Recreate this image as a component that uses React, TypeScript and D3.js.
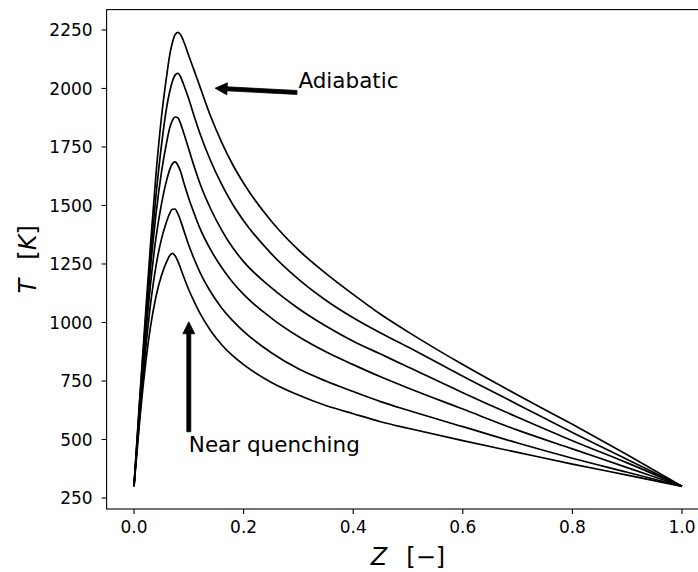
import React from "react";
import * as d3 from "d3";

// Mixture fraction grid
const zGrid = [0, 0.01, 0.02, 0.03, 0.04, 0.05, 0.06, 0.065, 0.07, 0.075, 0.08, 0.085, 0.09, 0.1, 0.11, 0.12, 0.14, 0.16, 0.18, 0.2, 0.25, 0.3, 0.35, 0.4, 0.45, 0.5, 0.6, 0.7, 0.8, 0.9, 1.0];

// Temperature profiles (K), from adiabatic down to near quenching
const tAdiabatic = [300, 660, 1000, 1330, 1630, 1875, 2060, 2140, 2195, 2230, 2240, 2230, 2205, 2140, 2075, 2010, 1880, 1770, 1675, 1595, 1435, 1310, 1210, 1120, 1035, 960, 820, 690, 565, 435, 300];
const tFlamelet2 = [300, 650, 975, 1280, 1540, 1755, 1925, 1985, 2030, 2057, 2065, 2050, 2020, 1955, 1880, 1810, 1690, 1590, 1505, 1435, 1295, 1185, 1095, 1020, 955, 895, 770, 650, 530, 415, 300];
const tFlamelet3 = [300, 630, 945, 1230, 1460, 1640, 1775, 1830, 1863, 1878, 1875, 1850, 1815, 1740, 1665, 1596, 1485, 1395, 1320, 1260, 1150, 1060, 985, 920, 865, 810, 700, 595, 495, 400, 300];
const tFlamelet4 = [300, 610, 905, 1160, 1360, 1505, 1612, 1652, 1678, 1686, 1672, 1645, 1605, 1530, 1465, 1404, 1310, 1235, 1172, 1120, 1020, 940, 875, 820, 768, 720, 630, 540, 460, 380, 300];
const tFlamelet5 = [300, 590, 855, 1075, 1240, 1355, 1435, 1465, 1484, 1485, 1465, 1435, 1400, 1330, 1270, 1216, 1130, 1062, 1008, 962, 872, 802, 750, 705, 662, 625, 555, 485, 420, 360, 300];
const tNearQuench = [300, 570, 800, 980, 1110, 1200, 1262, 1285, 1295, 1285, 1262, 1232, 1200, 1140, 1088, 1041, 965, 905, 858, 820, 745, 690, 645, 610, 576, 548, 495, 445, 395, 348, 300];

const seriesList = [tAdiabatic, tFlamelet2, tFlamelet3, tFlamelet4, tFlamelet5, tNearQuench];

const xTicks = [0, 0.2, 0.4, 0.6, 0.8, 1.0];
const yTicks = [250, 500, 750, 1000, 1250, 1500, 1750, 2000, 2250];

// Annotations: text anchor, arrow tail and arrow tip in data coords
const annLabels = ["Adiabatic", "Near quenching"];
const annText = [[0.3, 2000], [0.1, 448]];
const annTail = [[0.2974, 1983], [0.1, 533]];
const annTip = [[0.148, 2001], [0.1, 1003]];

const FONT = "DejaVu Sans, sans-serif";

function arrowPath(tx: number, ty: number, hx: number, hy: number) {
  const w = 4, hw = 12, hl = 12;
  const dx = hx - tx, dy = hy - ty;
  const L = Math.hypot(dx, dy);
  const ux = dx / L, uy = dy / L;
  const nx = -uy, ny = ux;
  const bx = hx - ux * hl, by = hy - uy * hl;
  const pts = [
    [tx + nx * w / 2, ty + ny * w / 2],
    [bx + nx * w / 2, by + ny * w / 2],
    [bx + nx * hw / 2, by + ny * hw / 2],
    [hx, hy],
    [bx - nx * hw / 2, by - ny * hw / 2],
    [bx - nx * w / 2, by - ny * w / 2],
    [tx - nx * w / 2, ty - ny * w / 2],
  ];
  return "M" + pts.map((p) => p[0].toFixed(2) + "," + p[1].toFixed(2)).join("L") + "Z";
}

export default function App() {
  const W = 698, H = 572;
  const x = d3.scaleLinear().domain([-0.05, 1.05]).range([106.6, 709.4]);
  const y = d3.scaleLinear().domain([203, 2337]).range([509, 9.6]);
  const left = x(-0.05), right = x(1.05), top = y(2337), bottom = y(203);

  const line = d3
    .line<number>()
    .x((_, i) => x(zGrid[i]))
    .y((d) => y(d))
    .curve(d3.curveMonotoneX);

  return (
    <div style={{ position: "fixed", left: 0, top: 0 }}>
      <svg width={W} height={H} style={{ display: "block", background: "#fff" }}>
        <defs>
          <clipPath id="plotclip">
            <rect x={left} y={top} width={right - left} height={bottom - top} />
          </clipPath>
        </defs>
        <rect width={W} height={H} fill="#fff" />
        <g clipPath="url(#plotclip)">
          {seriesList.map((s, i) => (
            <path key={i} d={line(s) || ""} fill="none" stroke="#000" strokeWidth={1.7} strokeLinejoin="round" />
          ))}
        </g>
        {/* spines */}
        <rect x={left} y={top} width={right - left} height={bottom - top} fill="none" stroke="#000" strokeWidth={1.1} />
        {/* x ticks */}
        {xTicks.map((t) => (
          <g key={"x" + t}>
            <line x1={x(t)} x2={x(t)} y1={bottom} y2={bottom + 5} stroke="#000" strokeWidth={1.1} />
            <text x={x(t)} y={bottom + 24} textAnchor="middle" fontFamily={FONT} fontSize={17} fill="#000">
              {t.toFixed(1)}
            </text>
          </g>
        ))}
        {/* y ticks */}
        {yTicks.map((t) => (
          <g key={"y" + t}>
            <line x1={left - 5} x2={left} y1={y(t)} y2={y(t)} stroke="#000" strokeWidth={1.1} />
            <text x={left - 14} y={y(t)} dy="0.36em" textAnchor="end" fontFamily={FONT} fontSize={17} fill="#000">
              {t}
            </text>
          </g>
        ))}
        {/* axis labels */}
        <text x={(left + right) / 2} y={565} textAnchor="middle" fontFamily={FONT} fontSize={24} fill="#000">
          <tspan fontStyle="italic">Z</tspan>
          <tspan dx={19}>{"[\u2212]"}</tspan>
        </text>
        <text
          transform={`translate(36,${(top + bottom) / 2}) rotate(-90)`}
          textAnchor="middle"
          fontFamily={FONT}
          fontSize={24}
          fill="#000"
        >
          <tspan fontStyle="italic">T</tspan>
          <tspan dx={19}>[</tspan>
          <tspan fontStyle="italic">K</tspan>
          <tspan>]</tspan>
        </text>
        {/* annotations */}
        {annLabels.map((lab, i) => (
          <g key={lab}>
            <path
              d={arrowPath(x(annTail[i][0]), y(annTail[i][1]), x(annTip[i][0]), y(annTip[i][1]))}
              fill="#000"
              stroke="#000"
              strokeWidth={0.8}
            />
            <text x={x(annText[i][0])} y={y(annText[i][1])} fontFamily={FONT} fontSize={21.5} fill="#000">
              {lab}
            </text>
          </g>
        ))}
      </svg>
    </div>
  );
}
